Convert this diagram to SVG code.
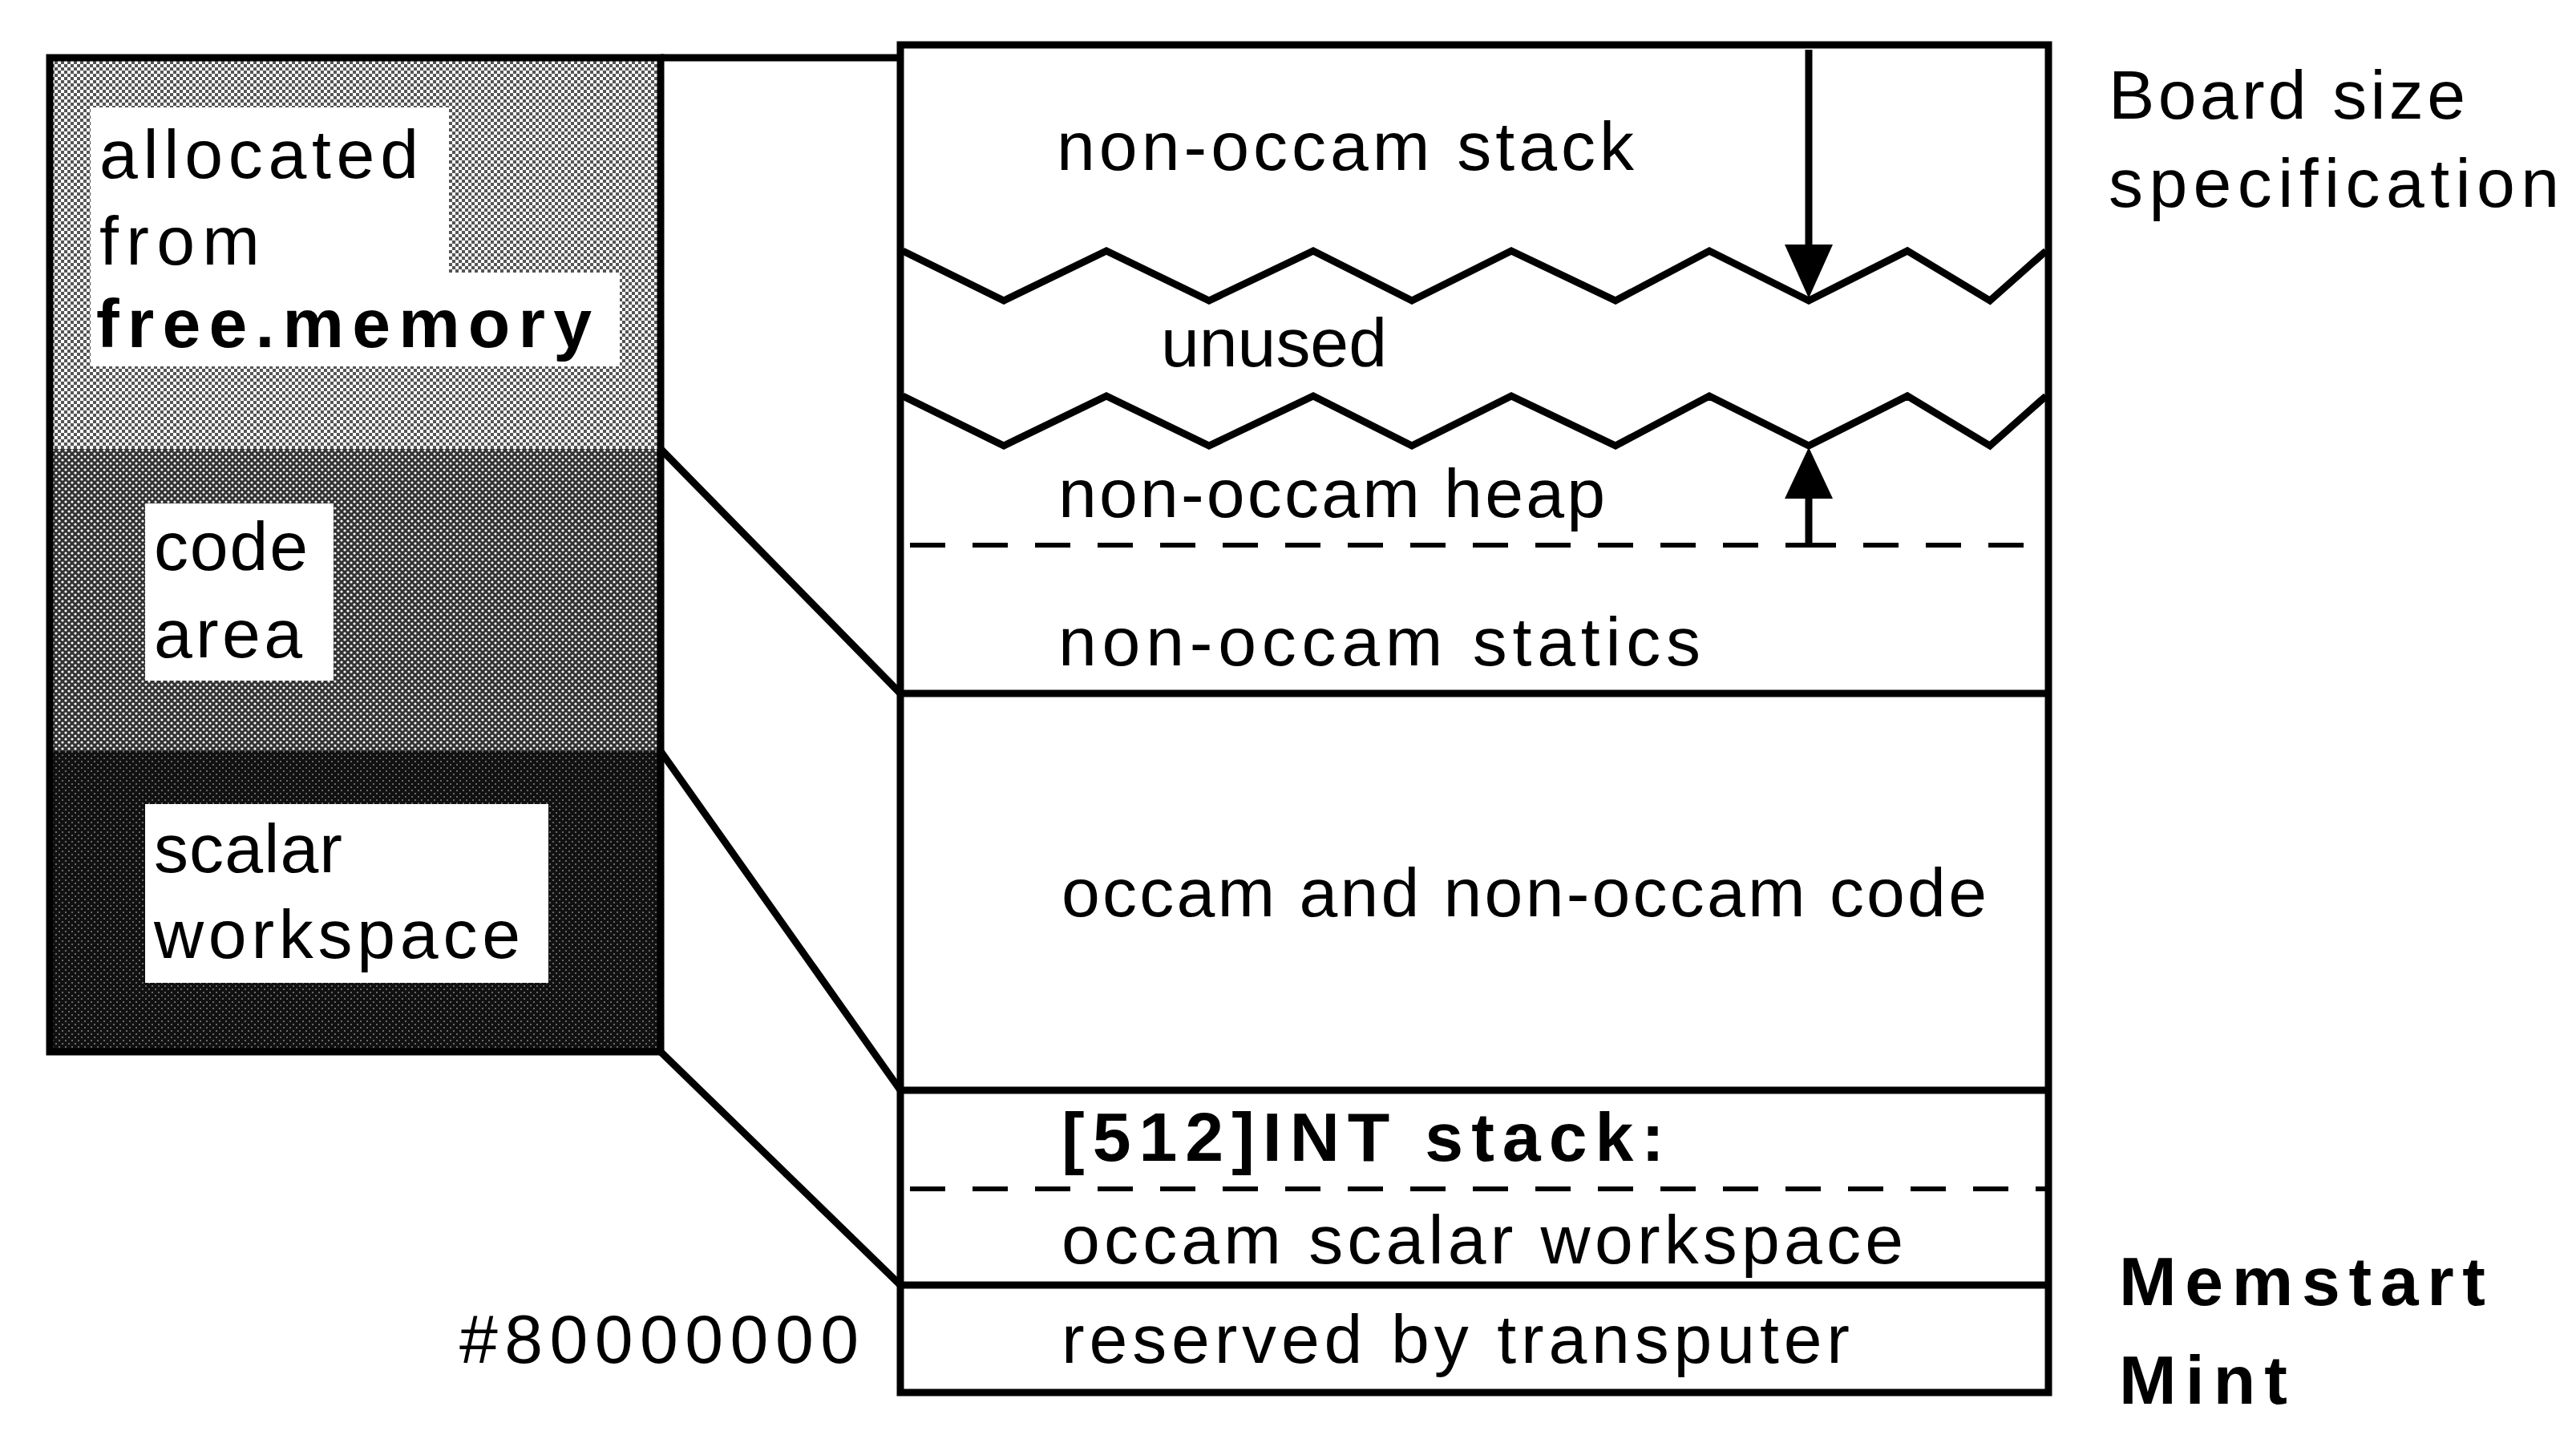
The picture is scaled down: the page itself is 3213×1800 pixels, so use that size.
<svg xmlns="http://www.w3.org/2000/svg" width="3213" height="1800" viewBox="0 0 3213 1800">
<style>
text{font-family:"Liberation Sans",Arial,sans-serif;font-size:86px;fill:#000}
.b{font-weight:bold}
.ln{stroke:#000;stroke-width:9;fill:none}
.dash{stroke:#000;stroke-width:6;fill:none;stroke-dasharray:44 34}
.wb{fill:#fff}
</style>
<defs>
<pattern id="pl" width="8" height="8" patternUnits="userSpaceOnUse"><rect width="8" height="8" fill="#fff"/><rect width="4" height="4" fill="#555"/><rect x="4" y="4" width="4" height="4" fill="#555"/></pattern>
<pattern id="pm" width="8" height="8" patternUnits="userSpaceOnUse"><rect width="8" height="8" fill="#333"/><circle cx="2" cy="2" r="1.6" fill="#fff"/><circle cx="6" cy="6" r="1.6" fill="#fff"/></pattern>
<pattern id="pd" width="8" height="8" patternUnits="userSpaceOnUse"><rect width="8" height="8" fill="#111"/><circle cx="2" cy="2" r="1" fill="#888"/><circle cx="6" cy="6" r="1" fill="#888"/></pattern>
</defs>
<g id="left-block">
<rect x="62" y="72" width="762" height="488" fill="url(#pl)"/>
<rect x="62" y="560" width="762" height="377" fill="url(#pm)"/>
<rect x="62" y="937" width="762" height="375" fill="url(#pd)"/>
<rect x="62" y="72" width="762" height="1240" class="ln" stroke-width="6"/>
<path class="wb" d="M113,134H560V340H773V457H113Z"/>
<text x="124" y="222" textLength="398">allocated</text>
<text x="124" y="330" textLength="200">from</text>
<text class="b" x="120" y="433" textLength="618">free.memory</text>
<rect class="wb" x="181" y="628" width="235" height="221"/>
<text x="192" y="711" textLength="192">code</text>
<text x="192" y="820" textLength="185">area</text>
<rect class="wb" x="181" y="1003" width="503" height="223"/>
<text x="192" y="1088" textLength="235">scalar</text>
<text x="192" y="1195" textLength="457">workspace</text>
</g>
<g id="connectors">
<line class="ln" x1="824" y1="72" x2="1123" y2="72"/>
<line class="ln" x1="824" y1="560" x2="1123" y2="865"/>
<line class="ln" x1="824" y1="937" x2="1123" y2="1360"/>
<line class="ln" x1="824" y1="1312" x2="1123" y2="1603"/>
<line class="ln" x1="2256" y1="62" x2="2256" y2="320" stroke-width="5"/>
<polygon points="2226,305 2286,305 2256,372" fill="#000"/>
<path class="ln" d="M2256,680V610" stroke-width="5"/>
<polygon points="2226,622 2286,622 2256,558" fill="#000"/>
</g>
<g id="memory-map">
<rect x="1123" y="56" width="1432" height="1681" class="ln" stroke-width="10"/>
<path class="ln" stroke-width="7" d="M1126,313L1252,375L1380,313L1508,375L1638,313L1761,375L1885,313L2015,375L2132,313L2256,375L2379,313L2482,375L2552,313"/>
<path class="ln" stroke-width="7" d="M1126,494L1252,556L1380,494L1508,556L1638,494L1761,556L1885,494L2015,556L2132,494L2256,556L2379,494L2482,556L2552,494"/>
<line class="dash" x1="1135" y1="680" x2="2256" y2="680"/>
<line class="dash" x1="2256" y1="680" x2="2552" y2="680" stroke-dashoffset="10"/>
<line class="ln" x1="1123" y1="865" x2="2555" y2="865"/>
<line class="ln" x1="1123" y1="1360" x2="2555" y2="1360" stroke-width="6"/>
<line class="dash" x1="1135" y1="1483" x2="2552" y2="1483"/>
<line class="ln" x1="1123" y1="1603" x2="2555" y2="1603"/>
<text x="1318" y="212" textLength="720">non-occam  stack</text>
<text x="1448" y="457" textLength="282">unused</text>
<text x="1320" y="645" textLength="682">non-occam  heap</text>
<text x="1320" y="830" textLength="801">non-occam  statics</text>
<text x="1324" y="1143" textLength="1154">occam  and  non-occam  code</text>
<text class="b" x="1324" y="1448" textLength="752">[512]INT  stack:</text>
<text x="1324" y="1576" textLength="1050">occam  scalar  workspace</text>
<text x="1324" y="1700" textLength="983">reserved  by  transputer</text>
</g>
<g id="labels">
<text x="573" y="1700" textLength="498">#80000000</text>
<text x="2630" y="148" textLength="445">Board  size</text>
<text x="2630" y="258" textLength="562">specification</text>
<text class="b" x="2643" y="1628" textLength="457">Memstart</text>
<text class="b" x="2643" y="1751" textLength="210">Mint</text>
</g>
</svg>
